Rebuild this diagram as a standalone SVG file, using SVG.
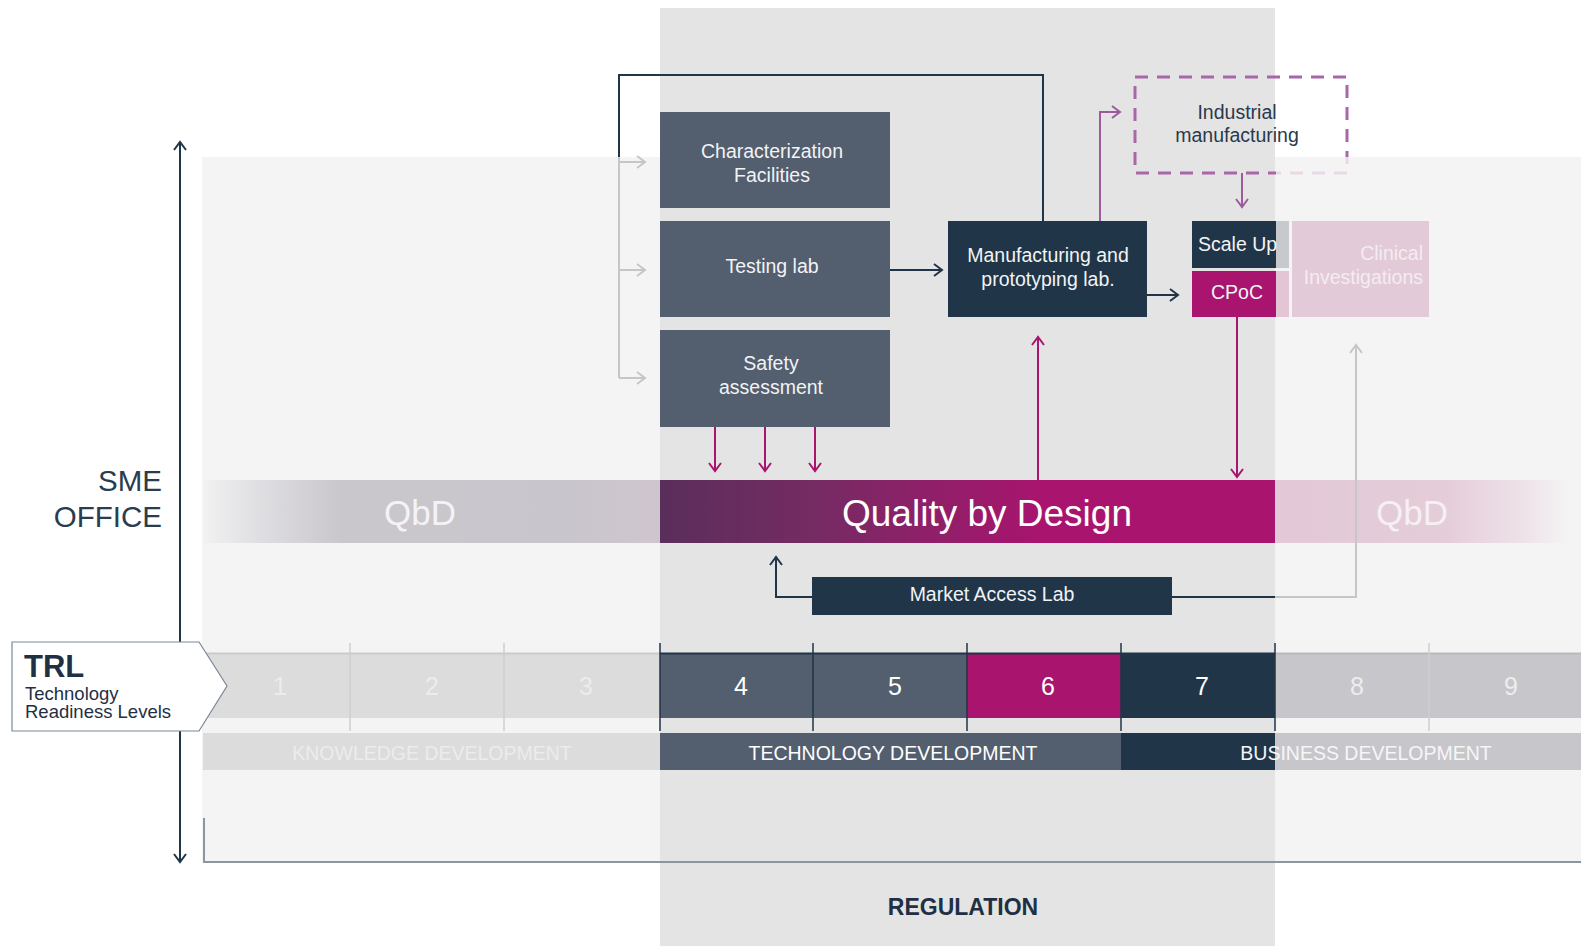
<svg xmlns="http://www.w3.org/2000/svg" width="1581" height="946" viewBox="0 0 1581 946">
<style>
text { font-family: "Liberation Sans", Arial, Helvetica, sans-serif; }
.lbl { fill: #f1f3f5; font-size: 19.5px; text-anchor: middle; }
.dark { fill: #2a3a4c; font-size: 19.5px; text-anchor: middle; }
.num { font-size: 25px; text-anchor: middle; }
.phase { font-size: 19.5px; text-anchor: middle; }
.qbd { font-size: 35px; text-anchor: middle; }
.gbox { fill: #535e6e; }
.nbox { fill: #203548; }
.mbox { fill: #a8146e; }
.navy-line { fill: none; stroke: #203548; stroke-width: 2; }
.gray-line { fill: none; stroke: #c6c6c6; stroke-width: 2; }
.mag-line { fill: none; stroke: #a8146e; stroke-width: 2; }
.pur-line { fill: none; stroke: #9b5b9d; stroke-width: 2; }
.tick-l { stroke: #cfcfcf; stroke-width: 1.5; }
.tick-d { stroke: #203548; stroke-width: 1.5; }
</style>
<defs>
  <marker id="ah-navy" viewBox="0 0 14 14" refX="12" refY="7" markerWidth="14" markerHeight="14" markerUnits="userSpaceOnUse" orient="auto-start-reverse">
    <path d="M4,1 L12,7 L4,13" fill="none" stroke="#203548" stroke-width="2"/>
  </marker>
  <marker id="ah-gray" viewBox="0 0 14 14" refX="12" refY="7" markerWidth="14" markerHeight="14" markerUnits="userSpaceOnUse" orient="auto">
    <path d="M4,1 L12,7 L4,13" fill="none" stroke="#c6c6c6" stroke-width="2"/>
  </marker>
  <marker id="ah-mag" viewBox="0 0 14 14" refX="12" refY="7" markerWidth="14" markerHeight="14" markerUnits="userSpaceOnUse" orient="auto">
    <path d="M4,1 L12,7 L4,13" fill="none" stroke="#a8146e" stroke-width="2"/>
  </marker>
  <marker id="ah-pur" viewBox="0 0 14 14" refX="12" refY="7" markerWidth="14" markerHeight="14" markerUnits="userSpaceOnUse" orient="auto">
    <path d="M4,1 L12,7 L4,13" fill="none" stroke="#9b5b9d" stroke-width="2"/>
  </marker>
  <linearGradient id="g-left" gradientUnits="userSpaceOnUse" x1="203" y1="0" x2="660" y2="0">
    <stop offset="0" stop-color="#f2f2f2"/>
    <stop offset="0.1" stop-color="#e2e1e4"/>
    <stop offset="0.3" stop-color="#c9c7cc"/>
    <stop offset="0.8" stop-color="#c9c5cc"/>
    <stop offset="1" stop-color="#cfc5d0"/>
  </linearGradient>
  <linearGradient id="g-mid" gradientUnits="userSpaceOnUse" x1="660" y1="0" x2="1275" y2="0">
    <stop offset="0" stop-color="#5a2e5a"/>
    <stop offset="0.25" stop-color="#752b63"/>
    <stop offset="0.62" stop-color="#a8146e"/>
    <stop offset="1" stop-color="#a8146e"/>
  </linearGradient>
  <linearGradient id="g-right" gradientUnits="userSpaceOnUse" x1="1275" y1="0" x2="1581" y2="0">
    <stop offset="0" stop-color="#e3c9d7"/>
    <stop offset="0.55" stop-color="#e4ccd9"/>
    <stop offset="0.82" stop-color="#eee3e9"/>
    <stop offset="0.96" stop-color="#f4f4f4"/>
  </linearGradient>
</defs>

<rect x="0" y="0" width="1581" height="946" fill="#ffffff"/>

<g id="background">
  <rect x="202" y="157" width="1379" height="705" fill="#f4f4f4"/>
  <rect x="660" y="8" width="615" height="938" fill="#e4e4e4"/>
  <path d="M204,818 V862 H1581" fill="none" stroke="#8a96a1" stroke-width="2"/>
  <text x="963" y="915" font-size="23" font-weight="bold" fill="#1f3044" text-anchor="middle">REGULATION</text>
</g>

<g id="axis">
  <line x1="180" y1="142" x2="180" y2="862" class="navy-line" marker-start="url(#ah-navy)" marker-end="url(#ah-navy)"/>
  <text x="162" y="491" font-size="29.5" fill="#2a3c4f" text-anchor="end">SME</text>
  <text x="162" y="527" font-size="29.5" fill="#2a3c4f" text-anchor="end">OFFICE</text>
</g>

<g id="qbd-band">
  <rect x="203" y="480" width="457" height="63" fill="url(#g-left)"/>
  <rect x="660" y="480" width="615" height="63" fill="url(#g-mid)"/>
  <rect x="1275" y="480" width="306" height="63" fill="url(#g-right)"/>
  <text x="420" y="525" class="qbd" fill="#f3f3f5">QbD</text>
  <text x="987" y="526" font-size="37" fill="#ffffff" text-anchor="middle">Quality by Design</text>
  <text x="1412" y="525" class="qbd" fill="#f6eff3">QbD</text>
</g>

<g id="trl-levels">
  <rect x="203" y="653" width="457" height="65" fill="#dcdcdc"/>
  <rect x="660" y="653" width="307" height="65" fill="#535e6e"/>
  <rect x="967" y="653" width="154" height="65" fill="#a8146e"/>
  <rect x="1121" y="653" width="154" height="65" fill="#203548"/>
  <rect x="1275" y="653" width="306" height="65" fill="#c7c7cb"/>
  <line x1="203" y1="653.5" x2="660" y2="653.5" stroke="#cacaca" stroke-width="2"/>
  <line x1="660" y1="653.5" x2="1275" y2="653.5" stroke="#203548" stroke-width="2"/>
  <line x1="1275" y1="653.5" x2="1581" y2="653.5" stroke="#b9b9be" stroke-width="2"/>
  <line x1="350" y1="643" x2="350" y2="731" class="tick-l"/>
  <line x1="504" y1="643" x2="504" y2="731" class="tick-l"/>
  <line x1="660" y1="643" x2="660" y2="731" class="tick-d"/>
  <line x1="813" y1="643" x2="813" y2="731" class="tick-d"/>
  <line x1="967" y1="643" x2="967" y2="731" class="tick-d"/>
  <line x1="1121" y1="643" x2="1121" y2="731" class="tick-d"/>
  <line x1="1275" y1="643" x2="1275" y2="731" class="tick-d"/>
  <line x1="1429" y1="643" x2="1429" y2="731" class="tick-l"/>
  <text x="280" y="695" class="num" fill="#ececec">1</text>
  <text x="432" y="695" class="num" fill="#ececec">2</text>
  <text x="586" y="695" class="num" fill="#ececec">3</text>
  <text x="741" y="695" class="num" fill="#ffffff">4</text>
  <text x="895" y="695" class="num" fill="#ffffff">5</text>
  <text x="1048" y="695" class="num" fill="#ffffff">6</text>
  <text x="1202" y="695" class="num" fill="#ffffff">7</text>
  <text x="1357" y="695" class="num" fill="#ededed">8</text>
  <text x="1511" y="695" class="num" fill="#ededed">9</text>
</g>

<g id="phases">
  <rect x="203" y="733" width="457" height="37" fill="#dcdcdc"/>
  <rect x="660" y="733" width="461" height="37" fill="#535e6e"/>
  <rect x="1121" y="733" width="154" height="37" fill="#203548"/>
  <rect x="1275" y="733" width="306" height="37" fill="#c7c7cb"/>
  <text x="432" y="760" class="phase" fill="#ececec">KNOWLEDGE DEVELOPMENT</text>
  <text x="893" y="760" class="phase" fill="#ffffff">TECHNOLOGY DEVELOPMENT</text>
  <text x="1366" y="760" class="phase" fill="#f6f6f6">BUSINESS DEVELOPMENT</text>
</g>

<g id="trl-label">
  <path d="M12,642 H199 L227,686 L199,731 H12 Z" fill="#ffffff" stroke="#7a8796" stroke-width="1.2"/>
  <text x="24" y="677" font-size="31" font-weight="bold" fill="#1f3044">TRL</text>
  <text x="25" y="700" font-size="18.5" fill="#1f3044">Technology</text>
  <text x="25" y="718" font-size="18.5" fill="#1f3044">Readiness Levels</text>
</g>

<g id="characterization-facilities">
  <rect x="660" y="112" width="230" height="96" class="gbox"/>
  <text x="772" y="158" class="lbl">Characterization</text>
  <text x="772" y="182" class="lbl">Facilities</text>
</g>
<g id="testing-lab">
  <rect x="660" y="221" width="230" height="96" class="gbox"/>
  <text x="772" y="273" class="lbl">Testing lab</text>
</g>
<g id="safety-assessment">
  <rect x="660" y="330" width="230" height="97" class="gbox"/>
  <text x="771" y="370" class="lbl">Safety</text>
  <text x="771" y="394" class="lbl">assessment</text>
</g>
<g id="manufacturing-lab">
  <rect x="948" y="221" width="199" height="96" class="nbox"/>
  <text x="1048" y="262" class="lbl">Manufacturing and</text>
  <text x="1048" y="286" class="lbl">prototyping lab.</text>
</g>
<g id="industrial-manufacturing">
  <rect x="1135" y="77" width="212" height="96" fill="none" stroke="#a966a8" stroke-width="3" stroke-dasharray="13 9"/>
  <rect x="1276" y="157" width="76" height="20" fill="#f4f4f4" opacity="0.82"/>
  <text x="1237" y="119" class="dark">Industrial</text>
  <text x="1237" y="142" class="dark">manufacturing</text>
</g>
<g id="scale-up">
  <rect x="1192" y="221" width="84" height="47" class="nbox"/>
  <rect x="1276" y="221" width="13" height="47" fill="#c8c9cd"/>
  <text x="1198" y="251" font-size="19.5" fill="#f1f3f5">Scale Up</text>
</g>
<g id="cpoc">
  <rect x="1192" y="271" width="84" height="46" class="mbox"/>
  <rect x="1276" y="271" width="13" height="46" fill="#e2c6d5"/>
  <text x="1237" y="299" class="lbl">CPoC</text>
</g>
<g id="clinical-investigations">
  <rect x="1292" y="221" width="137" height="96" fill="#e3cad8"/>
  <text x="1423" y="260" font-size="19.5" fill="#f4ecf1" text-anchor="end">Clinical</text>
  <text x="1423" y="284" font-size="19.5" fill="#f4ecf1" text-anchor="end">Investigations</text>
</g>
<g id="market-access-lab">
  <rect x="812" y="577" width="360" height="38" class="nbox"/>
  <text x="992" y="601" class="lbl">Market Access Lab</text>
</g>

<g id="connectors">
  <path d="M1043,221 V75 H619 V157" class="navy-line"/>
  <path d="M619,157 V378" class="gray-line"/>
  <path d="M619,162 H645" class="gray-line" marker-end="url(#ah-gray)"/>
  <path d="M619,270 H645" class="gray-line" marker-end="url(#ah-gray)"/>
  <path d="M619,378 H645" class="gray-line" marker-end="url(#ah-gray)"/>
  <path d="M890,270 H942" class="navy-line" marker-end="url(#ah-navy)"/>
  <path d="M1147,295 H1178" class="navy-line" marker-end="url(#ah-navy)"/>
  <path d="M1100,221 V112 H1120" class="pur-line" marker-end="url(#ah-pur)"/>
  <path d="M1242,173 V207" class="pur-line" marker-end="url(#ah-pur)"/>
  <path d="M715,427 V471" class="mag-line" marker-end="url(#ah-mag)"/>
  <path d="M765,427 V471" class="mag-line" marker-end="url(#ah-mag)"/>
  <path d="M815,427 V471" class="mag-line" marker-end="url(#ah-mag)"/>
  <path d="M1038,480 V337" class="mag-line" marker-end="url(#ah-mag)"/>
  <path d="M1237,317 V477" class="mag-line" marker-end="url(#ah-mag)"/>
  <path d="M812,597 H776 V557" class="navy-line" marker-end="url(#ah-navy)"/>
  <path d="M1172,597 H1275" class="navy-line"/>
  <path d="M1275,597 H1356 V345" class="gray-line" marker-end="url(#ah-gray)"/>
</g>
</svg>
